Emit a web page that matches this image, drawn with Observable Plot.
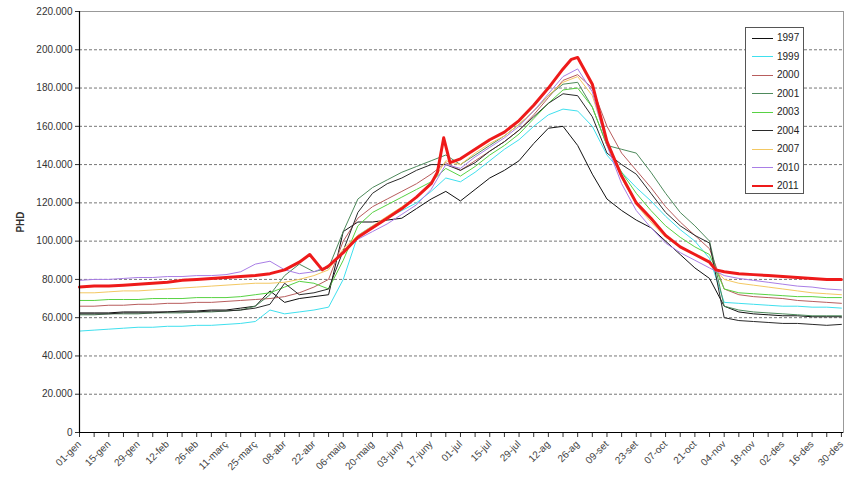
<!DOCTYPE html>
<html><head><meta charset="utf-8">
<script src="https://cdn.jsdelivr.net/npm/d3@7"></script>
<script src="https://cdn.jsdelivr.net/npm/@observablehq/plot@0.6"></script>
<style>
body{margin:0;background:#fff;font-family:"Liberation Sans",Arial,sans-serif;}
#wrap{position:relative;width:846px;height:479px;overflow:hidden;}
#legend{position:absolute;left:745px;top:27px;width:59px;height:167px;border:1px solid #555;background:#fff;box-sizing:border-box;}
.lrow{position:absolute;left:0;width:57px;height:12px;}
.sw{position:absolute;left:6px;width:21px;}
.lt{position:absolute;left:31px;top:0;font-size:10px;line-height:12px;color:#222;}
g[aria-label="y-axis label"] text{font-weight:bold;}
</style>
</head><body>
<div id="wrap"><div id="legend"></div></div>
<script>
// sampling days (day of year, weekly)
const days = [0,7,14,21,28,35,42,49,56,63,70,77,84,91,98,105,112,119,126,133,140,147,154,161,168,175,182,189,196,203,210,217,224,231,238,245,252,259,266,273,280,287,294,301,308,315,322,329,336,343,350,357,364];
// 2011 has a few extra sample days around its spikes
const days2011 = [0,7,14,21,28,35,42,49,56,63,70,77,84,91,98,105,110,116,119,126,133,140,147,154,161,168,171,174,177,182,189,196,203,210,217,224,231,235,238,245,252,259,266,273,280,287,294,301,304,308,315,322,329,336,343,350,357,364];
const labelDays = [0,14,28,42,56,70,84,98,112,126,140,154,168,182,196,210,224,238,252,266,280,294,308,322,336,350,364];
const tickLabels = ["01-gen","15-gen","29-gen","12-feb","26-feb","11-març","25-març","08-abr","22-abr","06-maig","20-maig","03-juny","17-juny","01-jul","15-jul","29-jul","12-ag","26-ag","09-set","23-set","07-oct","21-oct","04-nov","18-nov","02-des","16-des","30-des"];
const yTicks = [0,20000,40000,60000,80000,100000,120000,140000,160000,180000,200000,220000];
const gridValues = [20000,40000,60000,80000,100000,120000,140000,160000,180000,200000];

const years = ["1997","1999","2000","2001","2003","2004","2007","2010","2011"];
const colors = ["#111111","#3fe0ee","#b85d5d","#4e8a5c","#58d243","#2a2a2a","#f3c862","#a97ee6","#ee1a1a"];

// values in thousands (PHD)
const v1997 = [62.5,62.5,62.5,63,63,63,63,63.5,63.5,64,64,65,66,74,68,70,71,72,105,110,110,111,112,117,122,126,121,127,133,137,142,151,159,160,150,135,122,116,111,107,100,93,86,80.5,66,63,62,61.5,61,61,60.5,60.5,60.5];
const v1999 = [53,53.5,54,54.5,55,55,55.5,55.5,56,56,56.5,57,58,64,62,63,64,65.5,80,103,108,112,116,120,126,133,131,136,142,148,153,160,166,169,168,160,145,136,128,121,113,106,100,91,68,67.5,67,66.5,66,66,65.5,65.5,65];
const v2000 = [66,66,66.5,66.5,67,67,67.5,67.5,68,68,68.5,69,69.5,70,71,73,76,80,100,112,118,122,126,130,135,141,137,142,147,152,158,166,175,184,187,180,160,146,137,128,118,110,103,96,75,72,71,70.5,70,69,68.5,68,67.5];
const v2001 = [61.5,61.5,62,62,62,62.5,62.5,62.5,63,63,63.5,64,66,72,82,88,84,86,105,122,128,132,136,139,142,145,140,145,150,155,161,168,176,182,183,170,150,148,146,136,125,115,108,100,66,64,63,62.5,62,61.5,61,61,61];
const v2003 = [69,69,69.5,69.5,69.5,70,70,70,70.5,70.5,70.5,71,72,73,76,79,78,75,90,108,115,119,123,127,131,138,134,139,145,150,156,164,172,179,180,170,150,136,125,116,108,102,97,93,75,73,72.5,72,71.5,71,71,70.5,70.5];
const v2004 = [62,62,62,62.5,62.5,62.5,63,63,63,63.5,63.5,64,65,67,78,72,73,75,95,115,125,130,133,137,140,140,137,141,147,152,158,165,172,177,176,165,146,140,135,125,115,108,103,99,60,58.5,58,57.5,57,57,56.5,56,56.5];
const v2007 = [73,73,73.5,74,74,74.5,75,75.5,76,76.5,77,77.5,78,78,78.5,80,82,85,96,103,108,113,118,123,130,142,140,146,151,155,161,168,176,183,186,176,152,133,119,110,102,97,93,89,80,78,77,76,75,74,73,72.5,72];
const v2010 = [79.5,80,80,80.5,81,81,81.5,81.5,82,82,82.5,84,88,89.5,85,83,84,87,95,101,105,109,114,119,127,140,138,144,149,154,160,168,177,186,190,178,150,130,116,107,99,94,90,86,82,80.5,79.5,78.5,77.5,76.5,76,75,74.5];
const v2011 = [76,76.5,76.5,77,77.5,78,78.5,79.5,80,80.5,81,81.5,82,83,85,89,93,85,87,94,102,107,112,117,123,130,136,154,141,143,148,153,157,163,171,180,190,195,196,182,152,134,120,112,103,97,93,89,85,84,83,82.5,82,81.5,81,80.5,80,80];

const series = {"1997":v1997,"1999":v1999,"2000":v2000,"2001":v2001,"2003":v2003,"2004":v2004,"2007":v2007,"2010":v2010};
const rows = years.filter(y => y !== "2011").flatMap(y => days.map((d, i) => ({year: y, day: d, value: series[y][i] * 1000})));
const rows2011 = days2011.map((d, i) => ({year: "2011", day: d, value: v2011[i] * 1000}));
const labelMap = new Map(labelDays.map((d, i) => [d, tickLabels[i]]));
const fmt = v => d3.format(",")(v).replace(/,/g, ".");

const chart = Plot.plot({
  width: 846, height: 479,
  marginLeft: 79, marginRight: 3, marginTop: 11, marginBottom: 47,
  style: {fontFamily: '"Liberation Sans", Arial, sans-serif', fontSize: "10px", color: "#333", background: "#fff"},
  x: {domain: [0, 365]},
  y: {domain: [0, 220000]},
  color: {domain: years, range: colors},
  marks: [
    Plot.ruleY(gridValues, {stroke: "#777", strokeDasharray: "3,2", strokeWidth: 1}),
    Plot.frame({stroke: "#999"}),
    Plot.axisY(yTicks, {tickSize: 4, tickPadding: 3, tickFormat: fmt, label: "PHD", labelAnchor: "center", labelOffset: 63, labelArrow: "none"}),
    Plot.axisX(days, {tickSize: 5, tickFormat: () => "", label: null}),
    Plot.axisX(labelDays, {tickSize: 0, tickRotate: -45, tickPadding: 10, tickFormat: d => labelMap.get(d), label: null, fill: "#444"}),
    Plot.line(rows, {x: "day", y: "value", z: "year", stroke: "year", strokeWidth: 1}),
    Plot.line(rows2011, {x: "day", y: "value", stroke: "year", strokeWidth: 3}),
    Plot.ruleX([0], {stroke: "#000", strokeWidth: 1.2}),
    Plot.ruleY([0], {stroke: "#000", strokeWidth: 1})
  ]
});
document.getElementById("wrap").prepend(chart);

const legend = document.getElementById("legend");
years.forEach((y, i) => {
  const row = document.createElement("div");
  row.className = "lrow";
  row.style.top = (10 + 18.5 * i - 6) + "px";
  const sw = document.createElement("div");
  sw.className = "sw";
  const h = y === "2011" ? 2 : 1;
  sw.style.height = h + "px";
  sw.style.top = (6 - h / 2) + "px";
  sw.style.background = colors[i];
  const t = document.createElement("div");
  t.className = "lt";
  t.textContent = y;
  row.appendChild(sw); row.appendChild(t);
  legend.appendChild(row);
});
</script>
</body></html>
